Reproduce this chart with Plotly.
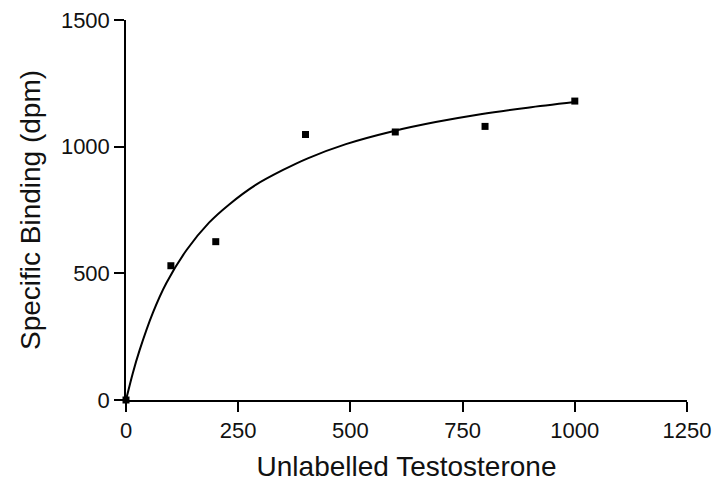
import plotly.graph_objects as go

# measured binding points
testosterone = [0, 100, 200, 400, 600, 800, 1000]
binding = [0, 530, 625, 1048, 1058, 1080, 1180]

# fitted curve
fit_x = [0, 15, 30, 60, 90, 135, 185, 230, 290, 350, 405, 490, 595, 690, 790, 895, 1000]
fit_y = [0, 105, 195, 345, 462, 592, 700, 772, 850, 908, 954, 1010, 1061, 1097, 1128, 1154, 1176]

x_ticks = [0, 250, 500, 750, 1000, 1250]
y_ticks = [0, 500, 1000, 1500]

font = "Liberation Sans, Arial, sans-serif"

fig = go.Figure()
fig.add_trace(go.Scatter(x=fit_x, y=fit_y, mode="lines",
                         line=dict(color="black", width=2, shape="spline", smoothing=0.8),
                         hoverinfo="skip"))
fig.add_trace(go.Scatter(x=testosterone, y=binding, mode="markers",
                         marker=dict(symbol="square", size=7, color="black"),
                         cliponaxis=False))

# page has an 8px body margin, so the figure is a bit smaller than the window
fig.update_layout(
    width=712, height=480,
    margin=dict(l=118, r=33, t=12, b=88),
    paper_bgcolor="white", plot_bgcolor="white",
    showlegend=False,
    font=dict(family=font, color="#111111"),
    xaxis=dict(range=[0, 1250.01], tickvals=x_ticks, showgrid=False, zeroline=False,
               showline=True, linecolor="black", linewidth=1.5, automargin=False,
               ticks="outside", ticklen=10, tickwidth=1.5, tickcolor="black",
               tickfont=dict(size=22), ticklabeloverflow="allow",
               title=dict(text="Unlabelled Testosterone", font=dict(size=28), standoff=14)),
    yaxis=dict(range=[0, 1500.01], tickvals=y_ticks, showgrid=False, zeroline=False,
               showline=True, linecolor="black", linewidth=1.5, automargin=False,
               ticks="outside", ticklen=10, tickwidth=1.5, tickcolor="black",
               tickfont=dict(size=22), ticklabeloverflow="allow",
               title=dict(text="Specific Binding (dpm)", font=dict(size=28), standoff=12)),
)

fig.write_html("out.html")
